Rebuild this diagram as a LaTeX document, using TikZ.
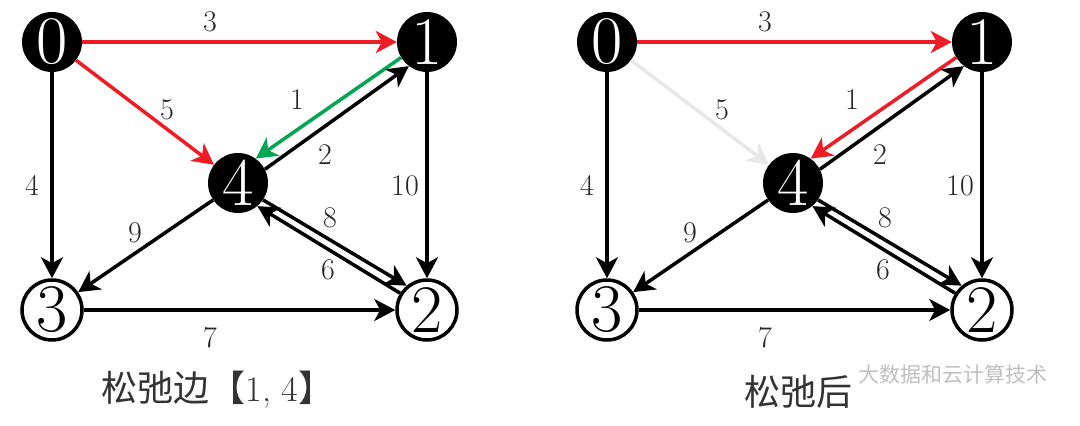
\documentclass[tikz,border=0pt]{standalone}
\usepackage{fontspec}
\usepackage{tikz}
\usetikzlibrary{arrows.meta}
\newfontfamily\cjk{Noto Sans CJK SC}
\definecolor{relaxred}{RGB}{238,28,36}
\definecolor{relaxgreen}{RGB}{0,166,81}
\definecolor{faded}{RGB}{232,232,232}

\tikzset{
  vtx/.style={circle,minimum size=60pt,inner sep=0pt,font=\fontsize{68}{68}\selectfont},
  blk/.style={vtx,fill=black,text=white},
  wht/.style={vtx,draw=black,line width=3.5pt,fill=white,text=black},
  arc/.style={line width=3.5pt,-{Stealth[length=21pt,width=22pt,inset=6pt]}},
  lbl/.style={font=\fontsize{30}{30}\selectfont,text=black!85,inner sep=1pt},
}

% #1 = name prefix, #2 = colour of 0->4, #3 = colour of 1->4
\newcommand\relaxgraph[3]{
  \node[blk] (#1-0) at (52,42) {0};
  \node[blk] (#1-1) at (427,42) {1};
  \node[wht] (#1-2) at (427,310) {2};
  \node[wht] (#1-3) at (52,310) {3};
  \node[blk] (#1-4) at (238,183) {4};
  \draw[arc,relaxred] (#1-0) -- (#1-1);
  \draw[arc,#2] (#1-0) -- (#1-4);
  \draw[arc] (#1-0) -- (#1-3);
  \draw[arc] (#1-1) -- (#1-2);
  \draw[arc] (#1-3) -- (#1-2);
  \draw[arc] (#1-4) -- (#1-3);
  \draw[arc,#3] (#1-1.211) -- (#1-4.54);
  \draw[arc] (#1-4.27) -- (#1-1.233);
  \draw[arc] (#1-4.-34) -- (#1-2.130);
  \draw[arc] (#1-2.148) -- (#1-4.-50);
  \node[lbl] (#1-w01) at (210,22) {3};
  \node[lbl] (#1-w04) at (167,110) {5};
  \node[lbl] (#1-w14) at (297,100) {1};
  \node[lbl] (#1-w41) at (325,155) {2};
  \node[lbl] (#1-w12) at (405,186) {10};
  \node[lbl] (#1-w03) at (32,185) {4};
  \node[lbl] (#1-w43) at (135,233) {9};
  \node[lbl] (#1-w42) at (330,218) {8};
  \node[lbl] (#1-w24) at (328,270) {6};
  \node[lbl] (#1-w32) at (210,338) {7};
}

\begin{document}
\begin{tikzpicture}[x=1pt,y=-1pt]
  \useasboundingbox[fill=white] (0,0) rectangle (1080,426);
  \relaxgraph{a}{relaxred}{relaxgreen}
  \begin{scope}[shift={(555,0)}]
    \relaxgraph{b}{faded}{relaxred}
  \end{scope}
  % captions
  \node[font=\fontsize{36}{36}\selectfont,text=black!80] (capa) at (218,390) {\cjk 松弛边【\rmfamily 1, 4\cjk 】};
  \node[font=\fontsize{36}{36}\selectfont,text=black!80] (capb) at (798,392) {\cjk 松弛后};
  \node[font=\fontsize{21}{21}\selectfont,text=black!25,anchor=west,inner sep=0pt] (mark) at (858,374) {\cjk 大数据和云计算技术};
\end{tikzpicture}
\end{document}
